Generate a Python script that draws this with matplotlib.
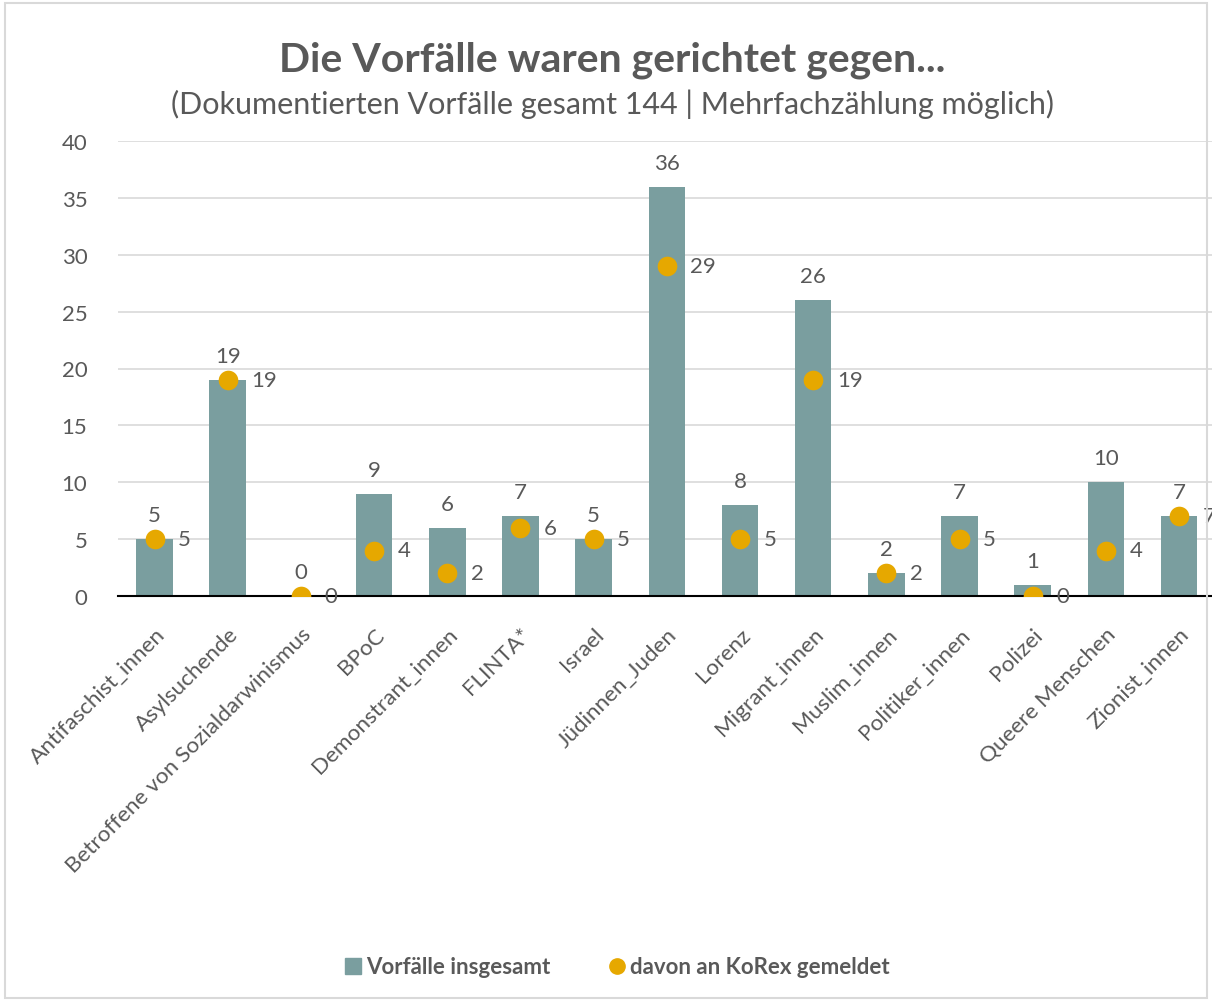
import matplotlib
matplotlib.use("Agg")
import matplotlib.pyplot as plt
from matplotlib.patches import Rectangle
from matplotlib.lines import Line2D

categories = ["Antifaschist_innen", "Asylsuchende", "Betroffene von Sozialdarwinismus",
              "BPoC", "Demonstrant_innen", "FLINTA*", "Israel", "Jüdinnen_Juden",
              "Lorenz", "Migrant_innen", "Muslim_innen", "Politiker_innen",
              "Polizei", "Queere Menschen", "Zionist_innen"]
total = [5, 19, 0, 9, 6, 7, 5, 36, 8, 26, 2, 7, 1, 10, 7]
korex = [5, 19, 0, 4, 2, 6, 5, 29, 5, 19, 2, 5, 0, 4, 7]
yticks = [0, 5, 10, 15, 20, 25, 30, 35, 40]

plt.rcParams['font.family'] = ['Lato', 'DejaVu Sans']
TXT = "#595959"
BAR = "#7A9E9F"
DOT = "#E6A800"

fig = plt.figure(figsize=(12.12, 10.03), dpi=100)
fig.patches.append(Rectangle((0.004, 0.004), 0.992, 0.992, transform=fig.transFigure,
                             fill=False, edgecolor="#D9D9D9", linewidth=1.5))
ax = fig.add_axes([118/1212, 1 - 597/1003, (1212 - 118)/1212, (597 - 142)/1003])

x = list(range(len(categories)))
ax.bar(x, total, width=0.5, color=BAR, zorder=2)
ax.scatter(x, korex, s=200, color=DOT, zorder=3, linewidths=0)

for i, v in enumerate(total):
    ax.annotate(str(v), (i, v), xytext=(0, 10), textcoords="offset points",
                ha="center", va="bottom", fontsize=16, color=TXT)
for i, v in enumerate(korex):
    ax.annotate(str(v), (i, v), xytext=(17, 0), textcoords="offset points",
                ha="left", va="center", fontsize=16, color=TXT, zorder=4)

ax.set_ylim(0, 40)
ax.set_xlim(-0.5, 14.45)
ax.set_yticks(yticks)
ax.set_yticklabels([str(t) for t in yticks], fontsize=16, color=TXT)
ax.set_xticks(x)
ax.set_xticklabels(categories, rotation=45, ha="right", rotation_mode="anchor",
                   fontsize=16.2, color=TXT)
ax.tick_params(axis="x", length=0, pad=20)
ax.tick_params(axis="y", length=0, pad=22)
ax.grid(axis="y", color="#D9D9D9", linewidth=1.2, zorder=0)
ax.set_axisbelow(True)
for s in ["left", "right", "top"]:
    ax.spines[s].set_visible(False)
ax.spines["bottom"].set_color("black")
ax.spines["bottom"].set_linewidth(1.5)
ax.spines["bottom"].set_zorder(2.5)

fig.text(0.505, 1 - 60/1003, "Die Vorfälle waren gerichtet gegen...", ha="center", va="center",
         fontsize=29.5, fontweight="bold", color=TXT)
fig.text(0.505, 1 - 104/1003, "(Dokumentierten Vorfälle gesamt 144 | Mehrfachzählung möglich)",
         ha="center", va="center", fontsize=22, color=TXT)

handles = [Line2D([], [], marker="s", linestyle="none", markersize=11, color=BAR),
           Line2D([], [], marker="o", linestyle="none", markersize=11, color=DOT)]
leg = fig.legend(handles, ["Vorfälle insgesamt", "davon an KoRex gemeldet"],
                 loc="center", bbox_to_anchor=(0.508, 1 - 968/1003), ncol=2, frameon=False,
                 prop={"size": 16, "weight": "bold"}, handletextpad=0.1, columnspacing=2.5,
                 handlelength=1.0)
for t in leg.get_texts():
    t.set_color(TXT)

fig.savefig("out.png", dpi=100)
